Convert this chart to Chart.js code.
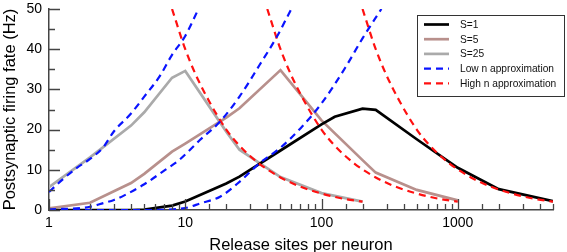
<!DOCTYPE html>
<html>
<head>
<meta charset="utf-8">
<script src="https://cdn.jsdelivr.net/npm/chart.js@4.4.1/dist/chart.umd.min.js"></script>
<style>
  html, body { margin: 0; padding: 0; background: #fff; }
  #wrap { width: 567px; height: 252px; }
</style>
</head>
<body>
<div id="wrap"><canvas id="chart" width="567" height="252"></canvas></div>
<script>
// tick labels
const xTickLabels = [1, 10, 100, 1000];
const yTicks = [0, 5, 10, 15, 20, 25, 30, 35, 40, 45, 50];

// simulations (release sites n -> rate in Hz)
const nS1 = [1, 2, 4, 5, 8, 10, 20, 25, 50, 100, 125, 200, 250, 500, 1000, 2000, 5000];
const rateS1 = [0, 0, 0, 0.1, 1.1, 2.1, 6.6, 8.3, 14.8, 21.3, 23.2, 25.2, 24.9, 17.6, 10.5, 5.2, 2.2];

const nS5 = [1, 2, 4, 5, 8, 10, 20, 25, 50, 100, 200, 250, 500, 1000];
const rateS5 = [0.4, 1.8, 6.7, 9.0, 14.5, 16.5, 23.0, 25.3, 34.8, 22.3, 12.4, 9.3, 5.0, 2.4];

const nS25 = [1, 2, 4, 5, 8, 10, 20, 25, 50, 100, 200];
const rateS25 = [5.7, 13.1, 21.0, 24.3, 32.9, 34.6, 19.5, 15.0, 8.2, 4.2, 2.1];

// low n approximation
const nLow25 = [1, 1.25, 1.6, 2, 2.5, 3, 4, 5, 6.5, 8, 10, 12.5];
const rateLow25 = [4.5, 7.5, 10.5, 12.7, 15.6, 19.6, 24.0, 28.2, 33.3, 38.6, 43.3, 50];
const nLow5 = [1, 2, 2.5, 3, 3.6, 5, 7, 9, 12.8, 18, 25, 35, 47, 60];
const rateLow5 = [0.1, 0.8, 1.7, 2.5, 3.7, 6.4, 9.8, 12.4, 17.4, 22, 28.2, 36, 43.1, 50];
const nLow1 = [1, 5, 10, 13, 18, 25, 35, 50, 70, 100, 150, 200, 275];
const rateLow1 = [0, 0, 0.5, 1.7, 3.3, 7, 11.6, 15.5, 20.3, 26.5, 35.5, 42.7, 50];

// high n approximation
const nHigh25 = [8, 10, 12, 15, 20, 25, 35, 50, 70, 100, 150, 200];
const rateHigh25 = [50, 40, 33.5, 27, 20, 16, 11.5, 8.1, 5.8, 4.1, 2.7, 2.1];
const nHigh5 = [40, 50, 60, 75, 100, 125, 175, 250, 350, 500, 750, 1000];
const rateHigh5 = [50, 40, 33.5, 27, 20, 16, 11.5, 8.1, 5.8, 4.1, 2.7, 2.1];
const nHigh1 = [200, 250, 300, 375, 500, 625, 875, 1250, 1750, 2500, 3750, 5000];
const rateHigh1 = [50, 40, 33.5, 27, 20, 16, 11.5, 8.1, 5.8, 4.1, 2.7, 2.1];

const BLACK = "#000000";
const PINK = "#b8908c";
const GRAY = "#aaaaaa";
const BLUE = "#0a14ff";
const RED = "#ff1010";

function pts(xs, ys) {
  return xs.map((x, i) => ({ x: x, y: ys[i] }));
}

function solid(label, xs, ys, color) {
  return {
    label: label,
    data: pts(xs, ys),
    borderColor: color,
    borderWidth: 2.7,
    pointRadius: 0,
    tension: 0,
    order: 1,
  };
}

function dashed(label, xs, ys, color) {
  return {
    label: label,
    data: pts(xs, ys),
    borderColor: color,
    borderWidth: 2.2,
    borderDash: [7, 5],
    pointRadius: 0,
    cubicInterpolationMode: "monotone",
    order: 0,
  };
}

const datasets = [
  solid("S=1", nS1, rateS1, BLACK),
  solid("S=5", nS5, rateS5, PINK),
  solid("S=25", nS25, rateS25, GRAY),
  dashed("Low n approximation", nLow25, rateLow25, BLUE),
  dashed("Low n approximation", nLow5, rateLow5, BLUE),
  dashed("Low n approximation", nLow1, rateLow1, BLUE),
  dashed("High n approximation", nHigh25, rateHigh25, RED),
  dashed("High n approximation", nHigh5, rateHigh5, RED),
  dashed("High n approximation", nHigh1, rateHigh1, RED),
];

// which datasets get a legend row
const legendRows = [0, 1, 2, 3, 6];

// ticks pointing into the plot
const innerTicks = {
  id: "innerTicks",
  afterDraw(chart) {
    const ctx = chart.ctx;
    const x = chart.scales.x;
    const y = chart.scales.y;
    const area = chart.chartArea;
    ctx.save();
    ctx.strokeStyle = "#444";
    ctx.lineWidth = 1.3;
    ctx.beginPath();
    yTicks.forEach((v) => {
      const py = Math.round(y.getPixelForValue(v)) + 0.5;
      const len = v % 10 === 0 ? 11 : 6;
      ctx.moveTo(area.left, py);
      ctx.lineTo(area.left + len, py);
    });
    x.ticks.forEach((t) => {
      const px = Math.round(x.getPixelForValue(t.value)) + 0.5;
      const len = xTickLabels.includes(t.value) ? 11 : 6;
      ctx.moveTo(px, area.bottom);
      ctx.lineTo(px, area.bottom - len);
    });
    ctx.stroke();
    ctx.restore();
  },
};

// boxed legend in the top right corner
const boxLegend = {
  id: "boxLegend",
  afterDraw(chart) {
    const ctx = chart.ctx;
    ctx.save();
    ctx.fillStyle = "#fff";
    ctx.fillRect(417, 15, 147, 81);
    ctx.strokeStyle = "#333";
    ctx.lineWidth = 1;
    ctx.strokeRect(417.5, 15.5, 147, 81);
    ctx.font = "10.2px 'Liberation Sans', Arial, sans-serif";
    ctx.textBaseline = "middle";
    ctx.fillStyle = "#111";
    legendRows.forEach((idx, i) => {
      const ds = chart.data.datasets[idx];
      const yy = 24.5 + i * 14.7;
      ctx.strokeStyle = ds.borderColor;
      ctx.lineWidth = idx < 3 ? 2.7 : 2.2;
      ctx.setLineDash(ds.borderDash || []);
      ctx.beginPath();
      ctx.moveTo(424, yy);
      ctx.lineTo(449, yy);
      ctx.stroke();
      ctx.setLineDash([]);
      ctx.fillText(ds.label, 460, yy + 0.5);
    });
    ctx.restore();
  },
};

// keep the plot box where the figure has it
function noOverflow(scale) {
  scale.paddingTop = 0;
  scale.paddingBottom = 0;
  scale.paddingLeft = 0;
  scale.paddingRight = 0;
}

Chart.defaults.font.family = "'Liberation Sans', Arial, sans-serif";
Chart.defaults.color = "#000";

new Chart(document.getElementById("chart"), {
  type: "line",
  data: { datasets: datasets },
  options: {
    responsive: false,
    devicePixelRatio: 1,
    animation: false,
    layout: { padding: { top: 9, right: 14, left: 0, bottom: 0 } },
    plugins: {
      legend: { display: false },
      tooltip: { enabled: false },
    },
    scales: {
      x: {
        type: "logarithmic",
        min: 1,
        max: 5000,
        border: { display: true, color: "#444", width: 1.5 },
        grid: { display: true, drawOnChartArea: false, drawTicks: false },
        ticks: {
          autoSkip: false,
          maxRotation: 0,
          padding: 5,
          font: { size: 14 },
          callback: (v) => (xTickLabels.includes(v) ? String(v) : ""),
        },
        title: {
          display: true,
          text: "Release sites per neuron",
          font: { size: 16.5, lineHeight: 0.8 },
          padding: { top: 0, bottom: 0 },
        },
        afterFit: (scale) => {
          scale.height = 42;
          noOverflow(scale);
        },
      },
      y: {
        type: "linear",
        min: 0,
        max: 50,
        border: { display: true, color: "#444", width: 1.5 },
        grid: { display: true, drawOnChartArea: false, drawTicks: false },
        ticks: {
          stepSize: 10,
          padding: 7,
          font: { size: 14 },
        },
        title: {
          display: true,
          text: "Postsynaptic firing fate (Hz)",
          font: { size: 16.5, lineHeight: 1 },
          padding: { top: 2, bottom: 0 },
        },
        afterFit: (scale) => {
          scale.width = 49;
          noOverflow(scale);
        },
      },
    },
  },
  plugins: [innerTicks, boxLegend],
});
</script>
</body>
</html>
